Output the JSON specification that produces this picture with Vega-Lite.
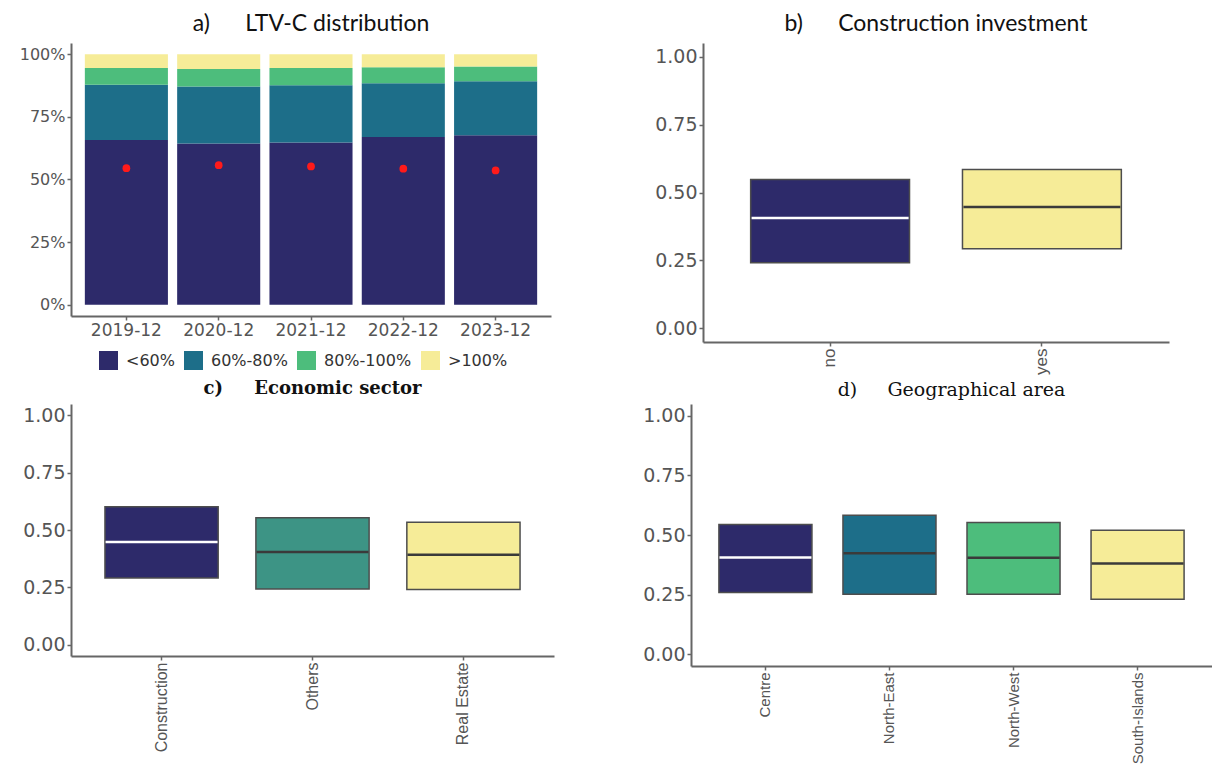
{
  "$schema": "https://vega.github.io/schema/vega-lite/v6.json",
  "background": "white",
  "padding": {"left": 12, "top": 13, "right": 0, "bottom": 0},
  "config": {
    "view": {"stroke": null},
    "axis": {"grid": false, "domainColor": "#666666", "domainWidth": 2, "tickColor": "#666666", "tickWidth": 1.5, "tickSize": 4, "labelPadding": 2, "labelColor": "#555555", "labelFont": "DejaVu Sans"},
    "title": {"color": "#111111", "anchor": "middle"}
  },
  "datasets": {
    "ltv": [
      {"date": "2019-12", "band": "<60%", "rank": 1, "share": 0.658},
      {"date": "2019-12", "band": "60%-80%", "rank": 2, "share": 0.220},
      {"date": "2019-12", "band": "80%-100%", "rank": 3, "share": 0.067},
      {"date": "2019-12", "band": ">100%", "rank": 4, "share": 0.055},
      {"date": "2020-12", "band": "<60%", "rank": 1, "share": 0.644},
      {"date": "2020-12", "band": "60%-80%", "rank": 2, "share": 0.227},
      {"date": "2020-12", "band": "80%-100%", "rank": 3, "share": 0.070},
      {"date": "2020-12", "band": ">100%", "rank": 4, "share": 0.059},
      {"date": "2021-12", "band": "<60%", "rank": 1, "share": 0.648},
      {"date": "2021-12", "band": "60%-80%", "rank": 2, "share": 0.228},
      {"date": "2021-12", "band": "80%-100%", "rank": 3, "share": 0.069},
      {"date": "2021-12", "band": ">100%", "rank": 4, "share": 0.055},
      {"date": "2022-12", "band": "<60%", "rank": 1, "share": 0.670},
      {"date": "2022-12", "band": "60%-80%", "rank": 2, "share": 0.214},
      {"date": "2022-12", "band": "80%-100%", "rank": 3, "share": 0.064},
      {"date": "2022-12", "band": ">100%", "rank": 4, "share": 0.052},
      {"date": "2023-12", "band": "<60%", "rank": 1, "share": 0.677},
      {"date": "2023-12", "band": "60%-80%", "rank": 2, "share": 0.215},
      {"date": "2023-12", "band": "80%-100%", "rank": 3, "share": 0.059},
      {"date": "2023-12", "band": ">100%", "rank": 4, "share": 0.049}
    ],
    "ltvMean": [
      {"date": "2019-12", "mean": 0.545},
      {"date": "2020-12", "mean": 0.557},
      {"date": "2021-12", "mean": 0.552},
      {"date": "2022-12", "mean": 0.543},
      {"date": "2023-12", "mean": 0.536}
    ],
    "construction": [
      {"group": "no", "q1": 0.242, "median": 0.406, "q3": 0.548},
      {"group": "yes", "q1": 0.293, "median": 0.447, "q3": 0.585}
    ],
    "sector": [
      {"group": "Construction", "q1": 0.290, "median": 0.448, "q3": 0.602},
      {"group": "Others", "q1": 0.243, "median": 0.404, "q3": 0.553},
      {"group": "Real Estate", "q1": 0.240, "median": 0.392, "q3": 0.534}
    ],
    "area": [
      {"group": "Centre", "q1": 0.259, "median": 0.406, "q3": 0.544},
      {"group": "North-East", "q1": 0.251, "median": 0.423, "q3": 0.583},
      {"group": "North-West", "q1": 0.251, "median": 0.404, "q3": 0.553},
      {"group": "South-Islands", "q1": 0.230, "median": 0.380, "q3": 0.520}
    ]
  },
  "resolve": {"scale": {"color": "independent"}, "legend": {"color": "independent"}},
  "spacing": 5,
  "vconcat": [
    {
      "hconcat": [
        {
          "title": {"text": "a)\u00a0\u00a0\u00a0\u00a0\u00a0\u00a0LTV-C distribution", "font": "Lato", "fontSize": 23, "fontWeight": "normal", "offset": 7},
          "width": 480,
          "height": 273,
          "layer": [
            {
              "data": {"name": "ltv"},
              "mark": {"type": "bar"},
              "encoding": {
                "x": {"field": "date", "type": "nominal", "scale": {"paddingInner": 0.1, "paddingOuter": 0.15}, "axis": {"title": null, "labelAngle": 0, "labelFontSize": 17}},
                "y": {"field": "share", "type": "quantitative", "stack": "zero", "scale": {"domain": [-0.045, 1.045], "nice": false, "zero": false}, "axis": {"title": null, "values": [0, 0.25, 0.5, 0.75, 1], "format": ".0%", "labelFontSize": 16, "minExtent": 59}},
                "color": {
                  "field": "band", "type": "nominal",
                  "sort": ["<60%", "60%-80%", "80%-100%", ">100%"],
                  "scale": {"domain": ["<60%", "60%-80%", "80%-100%", ">100%"], "range": ["#2d2a6a", "#1d6e89", "#4dbd7c", "#f6ec98"]},
                  "legend": {"title": null, "orient": "none", "legendX": 28, "legendY": 308, "direction": "horizontal", "symbolType": "square", "symbolSize": 361, "symbolStrokeWidth": 0, "symbolOpacity": 1, "labelFont": "DejaVu Sans", "labelFontSize": 16, "labelColor": "#333333", "labelOffset": 8, "columnPadding": 9}
                },
                "order": {"field": "rank", "type": "quantitative", "sort": "ascending"}
              }
            },
            {
              "data": {"name": "ltvMean"},
              "mark": {"type": "point", "filled": true, "color": "#ff1a1a", "size": 60, "opacity": 1},
              "encoding": {
                "x": {"field": "date", "type": "nominal"},
                "y": {"field": "mean", "type": "quantitative"}
              }
            }
          ]
        },
        {
          "title": {"text": "b)\u00a0\u00a0\u00a0\u00a0\u00a0\u00a0Construction investment", "font": "Lato", "fontSize": 23, "fontWeight": "normal", "offset": 7},
          "width": 466,
          "height": 299,
          "data": {"name": "construction"},
          "layer": [
            {
              "mark": {"type": "bar", "stroke": "#4d4d4d", "strokeWidth": 1.5},
              "encoding": {
                "x": {"field": "group", "type": "nominal", "scale": {"paddingInner": 0.25, "paddingOuter": 0.225}, "axis": {"title": null, "labelAngle": -90, "labelFont": "Liberation Sans", "labelFontSize": 17}},
                "y": {"field": "q1", "type": "quantitative", "scale": {"domain": [-0.05, 1.05], "nice": false, "zero": false}, "axis": {"title": null, "values": [0, 0.25, 0.5, 0.75, 1], "format": ".2f", "labelFontSize": 19}},
                "y2": {"field": "q3"},
                "color": {"field": "group", "type": "nominal", "scale": {"domain": ["no", "yes"], "range": ["#2d2a6a", "#f6ec98"]}, "legend": null}
              }
            },
            {
              "mark": {"type": "tick", "size": 157, "thickness": 2.5, "opacity": 1},
              "encoding": {
                "x": {"field": "group", "type": "nominal"},
                "y": {"field": "median", "type": "quantitative"},
                "color": {"condition": {"test": "datum.group === 'no'", "value": "#ffffff"}, "value": "#3a3a3a"}
              }
            }
          ]
        }
      ],
      "spacing": 152,
      "bounds": "flush",
      "resolve": {"scale": {"color": "independent"}, "legend": {"color": "independent"}}
    },
    {
      "hconcat": [
        {
          "title": {"text": "c)\u00a0\u00a0\u00a0\u00a0\u00a0Economic sector", "font": "DejaVu Serif", "fontSize": 18, "fontWeight": "bold", "offset": 6},
          "width": 483,
          "height": 252,
          "data": {"name": "sector"},
          "layer": [
            {
              "mark": {"type": "bar", "stroke": "#4d4d4d", "strokeWidth": 1.5},
              "encoding": {
                "x": {"field": "group", "type": "nominal", "scale": {"paddingInner": 0.25, "paddingOuter": 0.225}, "axis": {"title": null, "labelAngle": -90, "labelFont": "Liberation Sans", "labelFontSize": 16}},
                "y": {"field": "q1", "type": "quantitative", "scale": {"domain": [-0.05, 1.05], "nice": false, "zero": false}, "axis": {"title": null, "values": [0, 0.25, 0.5, 0.75, 1], "format": ".2f", "labelFontSize": 19, "minExtent": 59}},
                "y2": {"field": "q3"},
                "color": {"field": "group", "type": "nominal", "scale": {"domain": ["Construction", "Others", "Real Estate"], "range": ["#2d2a6a", "#3d9485", "#f6ec98"]}, "legend": null}
              }
            },
            {
              "mark": {"type": "tick", "size": 112, "thickness": 2.5, "opacity": 1},
              "encoding": {
                "x": {"field": "group", "type": "nominal"},
                "y": {"field": "median", "type": "quantitative"},
                "color": {"condition": {"test": "datum.group === 'Construction'", "value": "#ffffff"}, "value": "#3a3a3a"}
              }
            }
          ]
        },
        {
          "title": {"text": "d)\u00a0\u00a0\u00a0\u00a0\u00a0Geographical area", "font": "DejaVu Serif", "fontSize": 19, "fontWeight": "normal", "offset": 4},
          "width": 521,
          "height": 262,
          "data": {"name": "area"},
          "layer": [
            {
              "mark": {"type": "bar", "stroke": "#4d4d4d", "strokeWidth": 1.5},
              "encoding": {
                "x": {"field": "group", "type": "nominal", "scale": {"paddingInner": 0.25, "paddingOuter": 0.225}, "axis": {"title": null, "labelAngle": -90, "labelFont": "Liberation Sans", "labelFontSize": 15}},
                "y": {"field": "q1", "type": "quantitative", "scale": {"domain": [-0.05, 1.05], "nice": false, "zero": false}, "axis": {"title": null, "values": [0, 0.25, 0.5, 0.75, 1], "format": ".2f", "labelFontSize": 19}},
                "y2": {"field": "q3"},
                "color": {"field": "group", "type": "nominal", "scale": {"domain": ["Centre", "North-East", "North-West", "South-Islands"], "range": ["#2d2a6a", "#1d6e89", "#4dbd7c", "#f6ec98"]}, "legend": null}
              }
            },
            {
              "mark": {"type": "tick", "size": 92, "thickness": 2.5, "opacity": 1},
              "encoding": {
                "x": {"field": "group", "type": "nominal"},
                "y": {"field": "median", "type": "quantitative"},
                "color": {"condition": {"test": "datum.group === 'Centre'", "value": "#ffffff"}, "value": "#3a3a3a"}
              }
            }
          ]
        }
      ],
      "spacing": 137,
      "bounds": "flush",
      "resolve": {"scale": {"color": "independent"}, "legend": {"color": "independent"}}
    }
  ]
}
